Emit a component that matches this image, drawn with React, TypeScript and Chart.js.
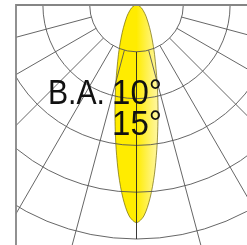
import React, { useEffect, useRef } from "react";
import { Chart, registerables } from "chart.js";

Chart.register(...registerables);

// Beam intensity curve (polar): angle in degrees from nadir, intensity in ring units
const beamAngles = [-90, -75, -60, -50, -40, -30, -25, -20, -15, -12, -10, -8, -6, -4, -2, 0, 2, 4, 6, 8, 10, 12, 15, 20, 25, 30, 40, 50, 60, 75, 90];
const beamIntensity = [0, 0.05, 0.12, 0.19, 0.32, 0.56, 0.78, 1.13, 1.70, 2.21, 2.63, 3.12, 3.65, 4.14, 4.51, 4.65, 4.51, 4.14, 3.65, 3.12, 2.63, 2.21, 1.70, 1.13, 0.78, 0.56, 0.32, 0.19, 0.12, 0.05, 0];

// Polar grid
const gridRings = [1, 2, 3, 4, 5];
const gridAngles = [-75, -60, -45, -30, -15, 15, 30, 45, 60, 75];
const centreAngle = 0;

// Labels
const labelLine1Prefix = "B.A.";
const labelLine1 = "10°";
const labelLine2 = "15°";

export default function App() {
  const ref = useRef<HTMLCanvasElement | null>(null);

  useEffect(() => {
    const canvas = ref.current;
    if (!canvas) return;
    const pts = beamAngles.map((a, i) => {
      const t = (a * Math.PI) / 180;
      return { x: beamIntensity[i] * Math.sin(t), y: -beamIntensity[i] * Math.cos(t) };
    });

    const gridPlugin = {
      id: "polarGrid",
      afterDatasetsDraw(chart: any) {
        const ctx = chart.ctx as CanvasRenderingContext2D;
        const xs = chart.scales.x;
        const ys = chart.scales.y;
        const cx = xs.getPixelForValue(0);
        const cy = ys.getPixelForValue(0);
        const unit = xs.getPixelForValue(1) - cx;
        const left = 16;
        const top = cy;
        ctx.save();
        ctx.beginPath();
        ctx.rect(left, top, chart.width - left, chart.height - top);
        ctx.clip();
        ctx.strokeStyle = "#555555";
        ctx.lineWidth = 0.9;
        for (const r of gridRings) {
          ctx.beginPath();
          ctx.arc(cx, cy, r * unit, 0, Math.PI);
          ctx.stroke();
        }
        const r0 = gridRings[0];
        for (const a of gridAngles) {
          const t = (a * Math.PI) / 180;
          ctx.beginPath();
          ctx.moveTo(xs.getPixelForValue(r0 * Math.sin(t)), ys.getPixelForValue(-r0 * Math.cos(t)));
          ctx.lineTo(xs.getPixelForValue(10 * Math.sin(t)), ys.getPixelForValue(-10 * Math.cos(t)));
          ctx.stroke();
        }
        {
          const t = (centreAngle * Math.PI) / 180;
          const rEnd = gridRings[gridRings.length - 1];
          ctx.beginPath();
          ctx.moveTo(xs.getPixelForValue(r0 * Math.sin(t)), ys.getPixelForValue(-r0 * Math.cos(t)));
          ctx.lineTo(xs.getPixelForValue(rEnd * Math.sin(t)), ys.getPixelForValue(-rEnd * Math.cos(t)));
          ctx.strokeStyle = "#222222";
          ctx.stroke();
        }
        ctx.restore();

        // frame
        ctx.save();
        ctx.strokeStyle = "#858585";
        ctx.lineWidth = 1.8;
        ctx.beginPath();
        ctx.moveTo(left, chart.height);
        ctx.lineTo(left, top);
        ctx.lineTo(chart.width, top);
        ctx.stroke();
        ctx.restore();

        // labels
        ctx.save();
        ctx.fillStyle = "#111111";
        ctx.font = '35px "Liberation Sans", Arial, sans-serif';
        ctx.textAlign = "left";
        ctx.textBaseline = "alphabetic";
        ctx.fillText(labelLine1Prefix, 48, 104, 57);
        ctx.fillText(labelLine1, 112, 104, 50);
        ctx.fillText(labelLine2, 112, 135, 50);
        ctx.restore();
      },
    };

    const chart = new Chart(canvas, {
      type: "scatter",
      data: {
        datasets: [
          {
            data: pts,
            showLine: true,
            tension: 0.3,
            pointRadius: 0,
            borderColor: "rgba(110,100,0,0.85)",
            borderWidth: 0.8,
            fill: "shape",
            backgroundColor: (c: any) => {
              const ch = c.chart;
              const xs = ch.scales && ch.scales.x;
              if (!xs || !ch.chartArea) return "#FFEC00";
              const cx = xs.getPixelForValue(0);
              if (!Number.isFinite(cx)) return "#FFEC00";
              const g = ch.ctx.createLinearGradient(cx - 22, 0, cx + 22, 0);
              g.addColorStop(0, "#FFEC00");
              g.addColorStop(0.5, "#FFEC00");
              g.addColorStop(1, "#FFF7A8");
              return g;
            },
          } as any,
        ],
      },
      options: {
        animation: false,
        responsive: false,
        events: [],
        layout: { padding: 0 },
        plugins: { legend: { display: false }, tooltip: { enabled: false } },
        scales: {
          x: { type: "linear", min: -136.5 / 46.8, max: (247 - 136.5) / 46.8, display: false },
          y: { type: "linear", min: -240 / 46.8, max: 5 / 46.8, display: false },
        },
      },
      plugins: [gridPlugin],
    });
    return () => chart.destroy();
  }, []);

  return (
    <div style={{ position: "fixed", left: 0, top: 0, width: 247, height: 245, background: "#fff" }}>
      <canvas ref={ref} width={247} height={245} style={{ display: "block" }} />
    </div>
  );
}
